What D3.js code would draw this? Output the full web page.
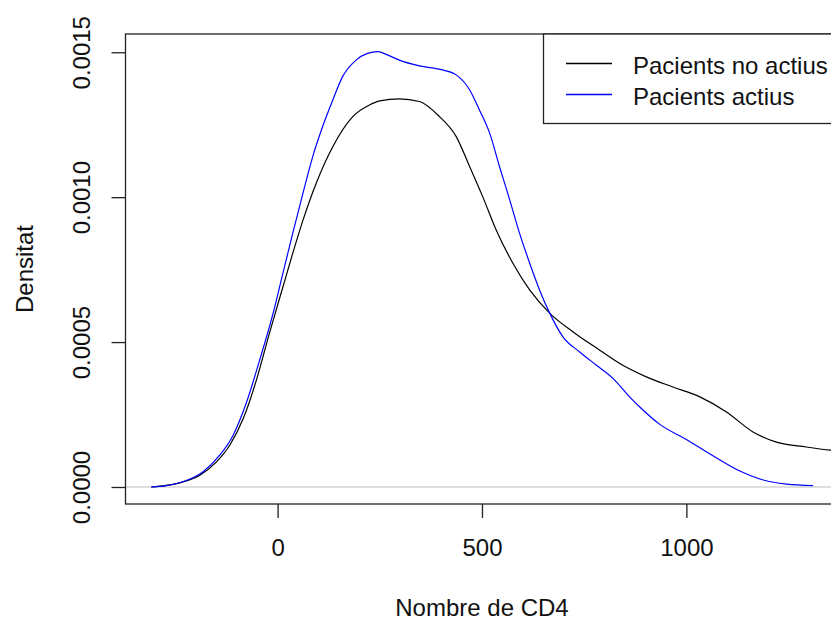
<!DOCTYPE html>
<html>
<head>
<meta charset="utf-8">
<script src="https://cdn.jsdelivr.net/npm/d3@7"></script>
<style>
  body { margin: 0; background: #fff; }
  svg { display: block; font-family: "Liberation Sans", Arial, sans-serif; }
</style>
</head>
<body>
<svg id="chart"></svg>
<script>
// Density estimates: [CD4 count, density]
const noActius = [
  [-309, 0], [-272, 0.0000055], [-232, 0.000017], [-191, 0.00004], [-150, 0.000086],
  [-117, 0.000144], [-84, 0.000236], [-52, 0.000368], [-20, 0.00053], [13, 0.00069],
  [37, 0.000806], [62, 0.00092], [95, 0.00105], [135, 0.001174], [184, 0.001278],
  [225, 0.001318], [250, 0.001332], [298, 0.001339], [347, 0.00133], [396, 0.001278],
  [437, 0.001209], [470, 0.001105], [502, 0.001001], [535, 0.000886], [576, 0.000771],
  [617, 0.000679], [666, 0.000599], [723, 0.000535], [788, 0.000472], [837, 0.000426],
  [902, 0.00038], [967, 0.000345], [1033, 0.000311], [1098, 0.000259], [1163, 0.00019],
  [1220, 0.000155], [1293, 0.000138], [1353, 0.000127], [1420, 0.00012]
]

const actius = [
  [-309, 0], [-272, 0.000005], [-232, 0.000018], [-183, 0.000052], [-142, 0.000109],
  [-109, 0.000178], [-77, 0.000288], [-44, 0.000437], [-11, 0.000599], [13, 0.000737],
  [37, 0.000875], [62, 0.001013], [86, 0.00114], [110, 0.001243], [135, 0.001335],
  [159, 0.001416], [192, 0.001473], [220, 0.001496], [245, 0.001502], [270, 0.00149],
  [298, 0.001473], [347, 0.001453], [404, 0.001439], [437, 0.001422], [470, 0.00137],
  [494, 0.0013], [519, 0.00122], [543, 0.001105], [568, 0.00099], [592, 0.000875],
  [617, 0.000771], [641, 0.000679], [666, 0.000599], [698, 0.000518], [739, 0.000466],
  [780, 0.00042], [821, 0.000374], [861, 0.000311], [886, 0.000276], [935, 0.000216],
  [1000, 0.000164], [1066, 0.000107], [1131, 0.000055], [1188, 0.000024], [1245, 0.00001],
  [1310, 0.000005]
]

const xTicks = [0, 500, 1000]
const xTickLabels = ["0", "500", "1000"]
const yTicks = [0, 0.0005, 0.001, 0.0015]
const yTickLabels = ["0.0000", "0.0005", "0.0010", "0.0015"]
const legendLabels = ["Pacients no actius", "Pacients actius"]
const legendColors = ["black", "blue"]

const width = 831
const height = 621
const box = { left: 125.5, right: 901, top: 34, bottom: 504 } // right edge runs off the page
const fontSize = 24

const svg = d3.select("#chart")
  .attr("width", width)
  .attr("height", height)

const x = d3.scaleLinear()
  .domain([-372, 1525])
  .range([box.left, box.right])

const y = d3.scaleLinear()
  .domain([-0.0000587, 0.001563])
  .range([box.bottom, box.top])

svg.append("clipPath")
  .attr("id", "plot-clip")
  .append("rect")
    .attr("x", box.left)
    .attr("y", box.top)
    .attr("width", box.right - box.left)
    .attr("height", box.bottom - box.top)

// Zero reference line, like abline(h = 0, col = "gray")
svg.append("line")
  .attr("x1", box.left)
  .attr("x2", box.right)
  .attr("y1", y(0))
  .attr("y2", y(0))
  .attr("stroke", "#bebebe")
  .attr("stroke-width", 1.2)

const line = d3.line()
  .x(d => x(d[0]))
  .y(d => y(d[1]))
  .curve(d3.curveMonotoneX)

svg.append("g")
  .attr("clip-path", "url(#plot-clip)")
  .selectAll("path")
  .data([noActius, actius])
  .join("path")
    .attr("d", line)
    .attr("fill", "none")
    .attr("stroke", (d, i) => legendColors[i])
    .attr("stroke-width", 1.2)

// Axes: tick marks and labels only, the box draws the lines
svg.append("g")
  .attr("transform", `translate(0, ${box.bottom})`)
  .call(d3.axisBottom(x).tickValues(xTicks).tickSize(14).tickSizeOuter(0)
    .tickFormat((d, i) => xTickLabels[i]))
  .call(g => g.select(".domain").remove())
  .call(g => g.selectAll(".tick line").attr("stroke", "#222").attr("stroke-width", 1.3))
  .call(g => g.selectAll(".tick text")
    .attr("y", 52)
    .attr("dy", 0)
    .attr("fill", "#111")
    .attr("font-family", "Liberation Sans, Arial, sans-serif")
    .attr("font-size", fontSize))

svg.append("g")
  .attr("transform", `translate(${box.left}, 0)`)
  .call(d3.axisLeft(y).tickValues(yTicks).tickSize(14).tickSizeOuter(0)
    .tickFormat((d, i) => yTickLabels[i]))
  .call(g => g.select(".domain").remove())
  .call(g => g.selectAll(".tick line").attr("stroke", "#222").attr("stroke-width", 1.3))
  .call(g => g.selectAll(".tick text")
    .attr("transform", "rotate(-90)")
    .attr("x", 0)
    .attr("y", -35.5)
    .attr("dy", 0)
    .attr("text-anchor", "middle")
    .attr("fill", "#111")
    .attr("font-family", "Liberation Sans, Arial, sans-serif")
    .attr("font-size", fontSize))

// Plot box
svg.append("rect")
  .attr("x", box.left)
  .attr("y", box.top)
  .attr("width", box.right - box.left)
  .attr("height", box.bottom - box.top)
  .attr("fill", "none")
  .attr("stroke", "#222")
  .attr("stroke-width", 1.3)

// Axis titles
svg.append("text")
  .attr("x", x(500))
  .attr("y", 616)
  .attr("text-anchor", "middle")
  .attr("font-size", fontSize)
  .attr("fill", "#111")
  .text("Nombre de CD4")

svg.append("text")
  .attr("transform", `translate(33, ${(box.top + box.bottom) / 2}) rotate(-90)`)
  .attr("text-anchor", "middle")
  .attr("font-size", fontSize)
  .attr("fill", "#111")
  .text("Densitat")

// Legend in the top right corner
const legend = svg.append("g")

legend.append("rect")
  .attr("x", 543.5)
  .attr("y", box.top)
  .attr("width", 400)
  .attr("height", 123.5 - box.top)
  .attr("fill", "white")
  .attr("stroke", "#222")
  .attr("stroke-width", 1.3)

const rows = legend.selectAll("g.row")
  .data(legendLabels)
  .join("g")
    .attr("class", "row")
    .attr("transform", (d, i) => `translate(0, ${63.5 + i * 31})`)

rows.append("line")
  .attr("x1", 566)
  .attr("x2", 612)
  .attr("stroke", (d, i) => legendColors[i])
  .attr("stroke-width", 1.3)

rows.append("text")
  .attr("x", 633)
  .attr("y", 10)
  .attr("font-size", fontSize)
  .attr("fill", "#111")
  .text(d => d)
</script>
</body>
</html>
